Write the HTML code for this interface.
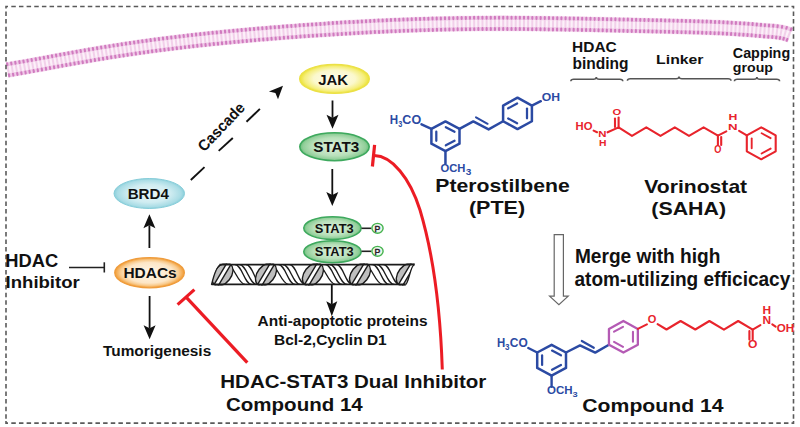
<!DOCTYPE html>
<html><head><meta charset="utf-8"><style>
html,body{margin:0;padding:0;background:#fff;}
svg{display:block;font-family:"Liberation Sans",sans-serif;}
</style></head><body>
<svg width="800" height="427" viewBox="0 0 800 427">
<defs>
<radialGradient id="gy" cx="50%" cy="50%" r="50%"><stop offset="0" stop-color="#fefdf2"/><stop offset="0.6" stop-color="#fbf8cc"/><stop offset="0.86" stop-color="#f5ee7c"/><stop offset="1" stop-color="#ece232"/></radialGradient>
<radialGradient id="gg" cx="50%" cy="50%" r="50%"><stop offset="0" stop-color="#dcf0dc"/><stop offset="0.65" stop-color="#b8e0ba"/><stop offset="0.9" stop-color="#92cf9a"/><stop offset="1" stop-color="#6abf7a"/></radialGradient>
<radialGradient id="gc" cx="50%" cy="50%" r="50%"><stop offset="0" stop-color="#eaf7f9"/><stop offset="0.6" stop-color="#cfecf1"/><stop offset="0.9" stop-color="#a9dce5"/><stop offset="1" stop-color="#8bcfdb"/></radialGradient>
<radialGradient id="go" cx="50%" cy="50%" r="50%"><stop offset="0" stop-color="#fef7ec"/><stop offset="0.68" stop-color="#fde6c6"/><stop offset="0.84" stop-color="#f9cc90"/><stop offset="0.94" stop-color="#f4ad55"/><stop offset="1" stop-color="#f29c34"/></radialGradient>
</defs>
<rect width="800" height="427" fill="#fff"/>
<polyline points="7.0,70.0 15.4,68.6 23.7,67.1 32.1,65.6 40.5,64.1 48.8,62.5 57.2,61.0 65.6,59.5 74.0,57.9 82.3,56.5 90.7,55.0 99.1,53.6 107.4,52.2 115.8,50.9 124.2,49.6 132.5,48.4 140.9,47.2 149.3,46.0 157.6,44.9 166.0,43.8 174.4,42.8 182.7,41.8 191.1,40.8 199.5,39.9 207.9,39.0 216.2,38.1 224.6,37.3 233.0,36.5 241.3,35.7 249.7,35.0 258.1,34.3 266.4,33.6 274.8,32.9 283.2,32.2 291.5,31.6 299.9,31.0 308.3,30.4 316.7,29.8 325.0,29.3 333.4,28.7 341.8,28.2 350.1,27.7 358.5,27.3 366.9,26.8 375.2,26.4 383.6,26.0 392.0,25.7 400.3,25.3 408.7,25.0 417.1,24.7 425.4,24.5 433.8,24.2 442.2,24.0 450.6,23.8 458.9,23.7 467.3,23.6 475.7,23.5 484.0,23.4 492.4,23.4 500.8,23.4 509.1,23.4 517.5,23.4 525.9,23.5 534.2,23.5 542.6,23.6 551.0,23.8 559.4,23.9 567.7,24.0 576.1,24.2 584.5,24.3 592.8,24.5 601.2,24.7 609.6,24.9 617.9,25.0 626.3,25.2 634.7,25.4 643.0,25.6 651.4,25.8 659.8,26.0 668.2,26.2 676.5,26.4 684.9,26.6 693.3,26.8 701.6,27.1 710.0,27.4 718.4,27.7 726.7,28.1 735.1,28.5 743.5,29.1 751.8,29.7 760.2,30.5 766.2,30.9 772.4,31.3 778.6,32.0 784.7,33.2 790.5,35.2" fill="none" stroke="#fcf0f9" stroke-width="16.2"/>
<polyline points="6.11,64.54 8.69,64.11 11.28,63.68 13.86,63.24 16.44,62.79 19.03,62.34 21.61,61.89 24.19,61.43 26.78,60.96 29.36,60.50 31.95,60.03 34.54,59.56 37.12,59.08 39.71,58.61 42.30,58.13 44.89,57.66 47.47,57.18 50.06,56.70 52.65,56.23 55.25,55.75 57.84,55.28 60.43,54.80 63.02,54.33 65.62,53.86 68.21,53.39 70.81,52.92 73.40,52.46 76.00,51.99 78.60,51.53 81.20,51.08 83.80,50.62 86.40,50.17 89.00,49.72 91.60,49.28 94.20,48.84 96.81,48.40 99.41,47.97 102.02,47.54 104.62,47.11 107.23,46.69 109.84,46.27 112.45,45.85 115.06,45.44 117.66,45.03 120.28,44.63 122.89,44.23 125.50,43.84 128.11,43.45 130.72,43.06 133.34,42.68 135.95,42.30 138.57,41.93 141.18,41.56 143.80,41.19 146.41,40.83 149.03,40.47 151.65,40.12 154.27,39.77 156.88,39.43 159.50,39.09 162.12,38.75 164.74,38.42 167.36,38.09 169.98,37.76 172.60,37.44 175.23,37.12 177.85,36.81 180.47,36.50 183.09,36.19 185.71,35.89 188.34,35.59 190.96,35.29 193.58,35.00 196.21,34.71 198.83,34.42 201.45,34.14 204.08,33.86 206.70,33.58 209.33,33.31 211.95,33.04 214.58,32.77 217.20,32.51 219.83,32.25 222.46,31.99 225.08,31.73 227.71,31.48 230.33,31.23 232.96,30.98 235.59,30.73 238.21,30.49 240.84,30.25 243.47,30.01 246.10,29.78 248.72,29.55 251.35,29.32 253.98,29.09 256.61,28.86 259.23,28.64 261.86,28.42 264.49,28.20 267.12,27.98 269.75,27.77 272.38,27.56 275.00,27.35 277.63,27.14 280.26,26.93 282.89,26.73 285.52,26.53 288.15,26.33 290.78,26.13 293.41,25.94 296.04,25.74 298.67,25.55 301.30,25.36 303.93,25.18 306.56,24.99 309.19,24.81 311.82,24.63 314.45,24.45 317.08,24.27 319.71,24.10 322.35,23.93 324.98,23.76 327.61,23.59 330.24,23.42 332.87,23.26 335.50,23.09 338.14,22.93 340.77,22.78 343.40,22.62 346.03,22.47 348.67,22.31 351.30,22.17 353.93,22.02 356.57,21.87 359.20,21.73 361.83,21.59 364.47,21.45 367.10,21.32 369.74,21.18 372.37,21.05 375.00,20.92 377.64,20.80 380.27,20.67 382.91,20.55 385.54,20.43 388.18,20.32 390.82,20.20 393.45,20.09 396.09,19.98 398.72,19.88 401.36,19.77 403.99,19.67 406.63,19.58 409.27,19.48 411.90,19.39 414.54,19.30 417.18,19.21 419.81,19.12 422.45,19.04 425.09,18.96 427.73,18.89 430.36,18.81 433.00,18.74 435.64,18.67 438.28,18.61 440.91,18.55 443.55,18.49 446.19,18.43 448.83,18.38 451.47,18.32 454.10,18.28 456.74,18.23 459.38,18.19 462.02,18.15 464.66,18.11 467.29,18.07 469.93,18.04 472.57,18.01 475.21,17.99 477.85,17.96 480.49,17.94 483.12,17.92 485.76,17.91 488.40,17.89 491.04,17.88 493.68,17.88 496.31,17.87 498.95,17.87 501.59,17.87 504.23,17.87 506.86,17.87 509.50,17.88 512.14,17.89 514.78,17.90 517.41,17.91 520.05,17.93 522.69,17.95 525.32,17.97 527.96,17.99 530.60,18.01 533.23,18.04 535.87,18.07 538.51,18.10 541.14,18.13 543.78,18.16 546.41,18.19 549.05,18.23 551.69,18.27 554.32,18.31 556.96,18.35 559.59,18.39 562.23,18.43 564.86,18.48 567.50,18.52 570.13,18.57 572.76,18.62 575.40,18.67 578.03,18.72 580.67,18.77 583.30,18.82 585.93,18.87 588.57,18.92 591.20,18.98 593.83,19.03 596.47,19.09 599.10,19.14 601.73,19.20 604.37,19.25 607.00,19.31 609.63,19.36 612.26,19.42 614.90,19.48 617.53,19.53 620.16,19.59 622.79,19.65 625.42,19.71 628.06,19.76 630.69,19.82 633.32,19.88 635.95,19.94 638.59,19.99 641.22,20.05 643.85,20.11 646.48,20.17 649.11,20.23 651.75,20.29 654.38,20.35 657.01,20.41 659.65,20.47 662.28,20.53 664.91,20.59 667.55,20.65 670.18,20.71 672.81,20.77 675.45,20.84 678.08,20.90 680.72,20.97 683.35,21.04 685.99,21.11 688.62,21.18 691.26,21.25 693.89,21.33 696.53,21.41 699.17,21.49 701.81,21.57 704.44,21.66 707.08,21.75 709.72,21.84 712.36,21.94 715.00,22.04 717.64,22.15 720.28,22.26 722.93,22.38 725.57,22.51 728.21,22.64 730.86,22.78 733.50,22.92 736.15,23.08 738.79,23.24 741.44,23.41 744.09,23.59 746.73,23.78 749.38,23.99 752.03,24.20 754.68,24.43 757.33,24.66 759.98,24.92 762.50,25.15 765.05,25.33 767.65,25.50 770.30,25.66 773.00,25.86 775.75,26.11 778.53,26.43 781.35,26.87 784.20,27.43 787.04,28.16 789.88,29.06 792.66,30.14" fill="none" stroke="#f0cbe8" stroke-width="4.0"/>
<polyline points="7.89,75.39 10.50,74.96 13.11,74.52 15.72,74.08 18.32,73.63 20.93,73.18 23.53,72.72 26.13,72.26 28.73,71.79 31.32,71.32 33.92,70.85 36.51,70.38 39.10,69.90 41.70,69.43 44.29,68.95 46.88,68.47 49.47,68.00 52.06,67.52 54.64,67.05 57.23,66.57 59.82,66.10 62.40,65.62 64.99,65.15 67.58,64.68 70.16,64.21 72.75,63.75 75.34,63.29 77.92,62.82 80.51,62.37 83.10,61.91 85.68,61.46 88.27,61.01 90.86,60.57 93.45,60.12 96.04,59.68 98.62,59.25 101.21,58.82 103.80,58.39 106.39,57.97 108.98,57.55 111.57,57.13 114.17,56.72 116.76,56.31 119.35,55.90 121.94,55.50 124.54,55.11 127.13,54.72 129.73,54.33 132.32,53.95 134.92,53.57 137.52,53.19 140.11,52.82 142.71,52.45 145.31,52.09 147.91,51.73 150.51,51.37 153.11,51.02 155.71,50.68 158.31,50.33 160.92,50.00 163.52,49.66 166.12,49.33 168.73,49.00 171.33,48.68 173.94,48.36 176.54,48.04 179.15,47.73 181.75,47.42 184.36,47.12 186.97,46.81 189.58,46.52 192.19,46.22 194.80,45.93 197.41,45.64 200.02,45.36 202.63,45.08 205.24,44.80 207.85,44.52 210.46,44.25 213.07,43.98 215.69,43.72 218.30,43.45 220.91,43.19 223.53,42.93 226.14,42.68 228.76,42.43 231.37,42.18 233.99,41.93 236.60,41.69 239.22,41.45 241.84,41.21 244.45,40.97 247.07,40.74 249.69,40.50 252.31,40.27 254.92,40.05 257.54,39.82 260.16,39.60 262.78,39.38 265.40,39.16 268.02,38.95 270.64,38.73 273.26,38.52 275.88,38.31 278.50,38.11 281.12,37.90 283.74,37.70 286.36,37.50 288.98,37.30 291.60,37.10 294.22,36.91 296.84,36.72 299.46,36.53 302.08,36.34 304.71,36.15 307.33,35.97 309.95,35.78 312.57,35.60 315.19,35.43 317.82,35.25 320.44,35.07 323.06,34.90 325.68,34.73 328.31,34.56 330.93,34.40 333.55,34.23 336.18,34.07 338.80,33.91 341.42,33.76 344.05,33.60 346.67,33.45 349.29,33.30 351.92,33.15 354.54,33.00 357.17,32.86 359.79,32.71 362.41,32.58 365.04,32.44 367.66,32.30 370.29,32.17 372.91,32.04 375.54,31.91 378.16,31.79 380.79,31.66 383.41,31.54 386.03,31.42 388.66,31.31 391.28,31.19 393.91,31.08 396.53,30.98 399.16,30.87 401.78,30.77 404.41,30.67 407.04,30.57 409.66,30.47 412.29,30.38 414.91,30.29 417.54,30.20 420.16,30.12 422.79,30.04 425.41,29.96 428.04,29.88 430.67,29.81 433.29,29.74 435.92,29.67 438.54,29.61 441.17,29.54 443.80,29.48 446.42,29.43 449.05,29.37 451.67,29.32 454.30,29.27 456.93,29.23 459.55,29.18 462.18,29.14 464.81,29.11 467.43,29.07 470.06,29.04 472.69,29.01 475.31,28.99 477.94,28.96 480.57,28.94 483.19,28.92 485.82,28.91 488.45,28.89 491.08,28.88 493.70,28.88 496.33,28.87 498.96,28.87 501.59,28.87 504.21,28.87 506.84,28.87 509.47,28.88 512.10,28.89 514.72,28.90 517.35,28.91 519.98,28.93 522.61,28.95 525.24,28.97 527.87,28.99 530.49,29.01 533.12,29.04 535.75,29.07 538.38,29.09 541.01,29.13 543.64,29.16 546.27,29.19 548.90,29.23 551.52,29.27 554.15,29.31 556.78,29.35 559.41,29.39 562.04,29.43 564.67,29.48 567.30,29.52 569.93,29.57 572.56,29.62 575.19,29.67 577.82,29.71 580.45,29.77 583.08,29.82 585.71,29.87 588.35,29.92 590.98,29.97 593.61,30.03 596.24,30.08 598.87,30.14 601.50,30.19 604.13,30.25 606.76,30.30 609.39,30.36 612.03,30.42 614.66,30.47 617.29,30.53 619.92,30.59 622.55,30.65 625.18,30.70 627.82,30.76 630.45,30.82 633.08,30.88 635.71,30.93 638.34,30.99 640.98,31.05 643.61,31.11 646.24,31.17 648.87,31.23 651.50,31.28 654.13,31.34 656.76,31.40 659.39,31.46 662.03,31.52 664.66,31.58 667.29,31.64 669.92,31.71 672.55,31.77 675.18,31.83 677.81,31.90 680.43,31.97 683.06,32.03 685.69,32.10 688.32,32.17 690.95,32.25 693.57,32.32 696.20,32.40 698.83,32.48 701.45,32.56 704.07,32.65 706.70,32.74 709.32,32.83 711.94,32.93 714.56,33.03 717.18,33.14 719.80,33.25 722.42,33.37 725.04,33.49 727.65,33.62 730.27,33.76 732.88,33.91 735.49,34.06 738.10,34.22 740.71,34.39 743.31,34.56 745.92,34.75 748.52,34.95 751.12,35.16 753.72,35.38 756.31,35.62 758.90,35.86 761.62,36.11 764.32,36.31 766.98,36.48 769.58,36.64 772.13,36.82 774.63,37.05 777.07,37.34 779.46,37.70 781.78,38.16 784.04,38.74 786.22,39.43 788.34,40.26" fill="none" stroke="#f0cbe8" stroke-width="4.0"/>
<path d="M7.44 65.23L8.93 74.31M11.51 64.55L13.04 73.62M15.58 63.85L17.15 72.92M19.66 63.14L21.25 72.21M23.74 62.42L25.35 71.48M27.81 61.69L29.44 70.75M31.89 60.95L33.53 70.01M35.97 60.21L37.62 69.26M40.04 59.46L41.71 68.51M44.12 58.71L45.79 67.76M48.21 57.96L49.87 67.01M52.29 57.21L53.95 66.26M56.37 56.46L58.03 65.51M60.46 55.71L62.11 64.76M64.55 54.97L66.19 64.02M68.63 54.23L70.27 63.28M72.73 53.49L74.35 62.55M76.82 52.76L78.42 61.82M80.91 52.04L82.50 61.10M85.01 51.33L86.58 60.39M89.11 50.62L90.66 59.69M93.21 49.92L94.74 58.99M97.31 49.23L98.83 58.30M101.41 48.55L102.91 57.62M105.52 47.87L107.00 56.96M109.63 47.21L111.08 56.30M113.74 46.56L115.17 55.65M117.85 45.92L119.26 55.01M121.96 45.28L123.35 54.38M126.08 44.66L127.44 53.76M130.19 44.05L131.54 53.15M134.31 43.45L135.63 52.55M138.43 42.86L139.73 51.97M142.55 42.28L143.82 51.39M146.67 41.70L147.92 50.82M150.80 41.14L152.02 50.26M154.92 40.59L156.13 49.71M159.05 40.05L160.23 49.18M163.17 39.52L164.34 48.65M167.30 39.00L168.44 48.13M171.43 38.49L172.55 47.62M175.56 37.99L176.66 47.12M179.69 37.50L180.77 46.63M183.82 37.01L184.88 46.15M187.96 36.54L189.00 45.68M192.09 36.07L193.11 45.21M196.22 35.61L197.23 44.76M200.36 35.16L201.34 44.31M204.49 34.72L205.46 43.87M208.63 34.29L209.58 43.44M212.77 33.86L213.70 43.01M216.90 33.44L217.82 42.60M221.04 33.03L221.94 42.19M225.18 32.63L226.07 41.78M229.32 32.23L230.19 41.39M233.45 31.84L234.31 41.00M237.59 31.45L238.44 40.61M241.73 31.07L242.56 40.24M245.87 30.70L246.69 39.87M250.01 30.34L250.82 39.50M254.16 29.98L254.95 39.14M258.30 29.62L259.07 38.79M262.44 29.27L263.20 38.44M266.58 28.93L267.33 38.10M270.72 28.59L271.46 37.76M274.87 28.26L275.59 37.43M279.01 27.94L279.73 37.11M283.15 27.61L283.86 36.79M287.30 27.30L287.99 36.47M291.44 26.99L292.12 36.16M295.58 26.68L296.26 35.86M299.73 26.38L300.39 35.56M303.87 26.08L304.52 35.26M308.02 25.79L308.66 34.97M312.16 25.51L312.79 34.69M316.31 25.23L316.93 34.41M320.46 24.95L321.06 34.13M324.60 24.68L325.20 33.86M328.75 24.42L329.33 33.60M332.90 24.16L333.47 33.34M337.05 23.90L337.61 33.08M341.20 23.65L341.74 32.84M345.34 23.41L345.88 32.59M349.49 23.17L350.02 32.35M353.64 22.94L354.15 32.12M357.79 22.71L358.29 31.89M361.94 22.49L362.43 31.67M366.09 22.27L366.57 31.46M370.25 22.06L370.70 31.25M374.40 21.85L374.84 31.04M378.55 21.66L378.98 30.85M382.70 21.46L383.12 30.65M386.85 21.28L387.26 30.47M391.01 21.10L391.40 30.29M395.16 20.92L395.54 30.12M399.31 20.76L399.68 29.95M403.47 20.59L403.82 29.79M407.62 20.44L407.96 29.63M411.78 20.29L412.10 29.49M415.93 20.15L416.24 29.35M420.09 20.02L420.38 29.21M424.24 19.89L424.52 29.09M428.40 19.77L428.66 28.96M432.56 19.65L432.80 28.85M436.71 19.55L436.94 28.74M440.87 19.45L441.08 28.64M445.02 19.35L445.22 28.55M449.18 19.27L449.36 28.47M453.34 19.19L453.51 28.39M457.50 19.12L457.65 28.32M461.65 19.05L461.79 28.25M465.81 18.99L465.93 28.19M469.97 18.94L470.07 28.14M474.12 18.90L474.22 28.10M478.28 18.86L478.36 28.06M482.44 18.83L482.50 28.03M486.60 18.80L486.64 28.00M490.75 18.78L490.79 27.98M494.91 18.77L494.93 27.97M499.07 18.77L499.07 27.97M503.22 18.77L503.22 27.97M507.38 18.77L507.36 27.97M511.54 18.79L511.50 27.99M515.69 18.80L515.65 28.00M519.85 18.83L519.79 28.03M524.00 18.86L523.93 28.06M528.16 18.89L528.08 28.09M532.31 18.93L532.22 28.13M536.47 18.97L536.37 28.17M540.62 19.02L540.51 28.22M544.78 19.07L544.66 28.27M548.93 19.13L548.80 28.33M553.09 19.19L552.95 28.39M557.24 19.25L557.09 28.45M561.39 19.32L561.24 28.52M565.55 19.39L565.39 28.59M569.70 19.46L569.53 28.66M573.85 19.54L573.68 28.74M578.00 19.62L577.83 28.81M582.15 19.70L581.97 28.89M586.30 19.78L586.12 28.98M590.45 19.86L590.27 29.06M594.61 19.95L594.42 29.14M598.76 20.03L598.56 29.23M602.91 20.12L602.71 29.32M607.06 20.21L606.86 29.41M611.21 20.30L611.01 29.50M615.36 20.39L615.16 29.59M619.50 20.48L619.30 29.68M623.65 20.57L623.45 29.77M627.80 20.66L627.60 29.86M631.95 20.75L631.75 29.95M636.10 20.84L635.90 30.04M640.25 20.93L640.05 30.13M644.40 21.02L644.20 30.22M648.55 21.12L648.35 30.31M652.70 21.21L652.49 30.41M656.85 21.30L656.64 30.50M661.00 21.40L660.79 30.59M665.15 21.49L664.94 30.69M669.30 21.59L669.08 30.79M673.45 21.69L673.23 30.89M677.60 21.79L677.38 30.99M681.76 21.90L681.52 31.09M685.91 22.01L685.66 31.20M690.06 22.12L689.81 31.31M694.22 22.24L693.95 31.43M698.37 22.36L698.09 31.56M702.53 22.49L702.23 31.69M706.69 22.63L706.37 31.83M710.85 22.78L710.50 31.98M715.01 22.94L714.64 32.14M719.17 23.12L718.77 32.31M723.33 23.30L722.90 32.49M727.49 23.50L727.03 32.69M731.65 23.72L731.15 32.91M735.82 23.96L735.27 33.14M739.99 24.22L739.39 33.40M744.15 24.50L743.51 33.68M748.32 24.81L747.62 33.98M752.49 25.14L751.72 34.31M756.66 25.51L755.82 34.67M760.81 25.90L759.93 35.06M764.81 26.22L764.20 35.40M768.94 26.48L768.36 35.66M773.16 26.77L772.42 35.94M777.48 27.20L776.36 36.34M781.86 27.87L780.18 36.92M786.28 28.88L783.86 37.75M790.65 30.30L787.37 38.89" stroke="#f2d0ea" stroke-width="2.0" fill="none"/>
<path d="M7.42 65.13L7.11 63.26M11.49 64.45L11.18 62.58M15.57 63.76L15.24 61.88M19.64 63.05L19.31 61.17M23.72 62.32L23.38 60.45M27.79 61.59L27.46 59.72M31.87 60.86L31.53 58.99M35.95 60.11L35.61 58.24M40.03 59.36L39.68 57.50M44.11 58.61L43.76 56.74M48.19 57.86L47.84 55.99M52.27 57.11L51.93 55.24M56.35 56.36L56.01 54.49M60.44 55.61L60.10 53.74M64.53 54.87L64.19 53.00M68.62 54.13L68.28 52.26M72.71 53.39L72.37 51.52M76.80 52.66L76.47 50.79M80.90 51.94L80.57 50.07M84.99 51.23L84.67 49.36M89.09 50.52L88.77 48.65M93.19 49.82L92.87 47.95M97.29 49.13L96.98 47.26M101.40 48.45L101.09 46.57M105.50 47.78L105.20 45.90M109.61 47.11L109.31 45.24M113.72 46.46L113.43 44.58M117.83 45.82L117.54 43.94M121.95 45.19L121.66 43.31M126.06 44.56L125.78 42.68M130.18 43.95L129.90 42.07M134.30 43.35L134.02 41.47M138.42 42.76L138.15 40.88M142.54 42.18L142.27 40.29M146.66 41.61L146.40 39.72M150.78 41.05L150.53 39.16M154.91 40.49L154.66 38.61M159.03 39.95L158.79 38.07M163.16 39.42L162.92 37.54M167.29 38.90L167.05 37.02M171.42 38.39L171.19 36.50M175.55 37.89L175.32 36.00M179.68 37.40L179.46 35.51M183.81 36.91L183.59 35.02M187.94 36.44L187.73 34.55M192.08 35.97L191.87 34.08M196.21 35.51L196.00 33.62M200.35 35.06L200.14 33.17M204.48 34.62L204.28 32.73M208.62 34.19L208.42 32.30M212.75 33.76L212.56 31.87M216.89 33.34L216.70 31.45M221.03 32.93L220.84 31.04M225.17 32.53L224.98 30.63M229.31 32.13L229.13 30.24M233.45 31.74L233.27 29.85M237.59 31.35L237.41 29.46M241.72 30.97L241.55 29.08M245.87 30.60L245.70 28.71M250.01 30.24L249.84 28.34M254.15 29.88L253.98 27.98M258.29 29.52L258.13 27.63M262.43 29.17L262.27 27.28M266.57 28.83L266.42 26.94M270.71 28.49L270.56 26.60M274.86 28.16L274.71 26.27M279.00 27.84L278.85 25.94M283.14 27.51L283.00 25.62M287.29 27.20L287.14 25.30M291.43 26.89L291.29 24.99M295.58 26.58L295.44 24.69M299.72 26.28L299.58 24.38M303.87 25.98L303.73 24.09M308.01 25.69L307.88 23.80M312.16 25.41L312.03 23.51M316.30 25.13L316.18 23.23M320.45 24.85L320.33 22.96M324.60 24.58L324.48 22.69M328.75 24.32L328.63 22.42M332.89 24.06L332.78 22.16M337.04 23.80L336.93 21.90M341.19 23.55L341.08 21.66M345.34 23.31L345.23 21.41M349.49 23.07L349.38 21.17M353.64 22.84L353.53 20.94M357.79 22.61L357.69 20.71M361.94 22.39L361.84 20.49M366.09 22.17L365.99 20.27M370.24 21.96L370.15 20.06M374.39 21.75L374.30 19.86M378.54 21.56L378.45 19.66M382.70 21.36L382.61 19.47M386.85 21.18L386.77 19.28M391.00 21.00L390.92 19.10M395.16 20.82L395.08 18.92M399.31 20.66L399.24 18.76M403.46 20.49L403.39 18.60M407.62 20.34L407.55 18.44M411.77 20.19L411.71 18.29M415.93 20.05L415.87 18.15M420.08 19.92L420.02 18.02M424.24 19.79L424.18 17.89M428.40 19.67L428.34 17.77M432.55 19.55L432.50 17.66M436.71 19.45L436.66 17.55M440.87 19.35L440.82 17.45M445.02 19.25L444.98 17.35M449.18 19.17L449.14 17.27M453.34 19.09L453.30 17.19M457.49 19.02L457.46 17.12M461.65 18.95L461.62 17.05M465.81 18.89L465.78 16.99M469.97 18.84L469.94 16.94M474.12 18.80L474.10 16.90M478.28 18.76L478.26 16.86M482.44 18.73L482.43 16.83M486.60 18.70L486.59 16.80M490.75 18.68L490.75 16.78M494.91 18.67L494.91 16.77M499.07 18.67L499.07 16.77M503.22 18.67L503.23 16.77M507.38 18.67L507.38 16.77M511.54 18.69L511.54 16.79M515.69 18.70L515.70 16.80M519.85 18.73L519.86 16.83M524.00 18.76L524.02 16.86M528.16 18.79L528.18 16.89M532.32 18.83L532.33 16.93M536.47 18.87L536.49 16.97M540.63 18.92L540.65 17.02M544.78 18.97L544.80 17.07M548.93 19.03L548.96 17.13M553.09 19.09L553.12 17.19M557.24 19.15L557.27 17.25M561.39 19.22L561.43 17.32M565.55 19.29L565.58 17.39M569.70 19.36L569.73 17.46M573.85 19.44L573.89 17.54M578.00 19.52L578.04 17.62M582.15 19.60L582.19 17.70M586.31 19.68L586.34 17.78M590.46 19.76L590.50 17.86M594.61 19.85L594.65 17.95M598.76 19.93L598.80 18.03M602.91 20.02L602.95 18.12M607.06 20.11L607.10 18.21M611.21 20.20L611.25 18.30M615.36 20.29L615.40 18.39M619.51 20.38L619.55 18.48M623.66 20.47L623.70 18.57M627.81 20.56L627.85 18.66M631.95 20.65L632.00 18.75M636.10 20.74L636.15 18.84M640.25 20.83L640.30 18.93M644.40 20.92L644.45 19.02M648.55 21.02L648.59 19.12M652.70 21.11L652.74 19.21M656.85 21.20L656.90 19.30M661.00 21.30L661.05 19.40M665.15 21.39L665.20 19.49M669.30 21.49L669.35 19.59M673.46 21.59L673.50 19.69M677.61 21.69L677.65 19.79M681.76 21.80L681.81 19.90M685.91 21.91L685.96 20.01M690.07 22.02L690.12 20.12M694.22 22.14L694.28 20.24M698.38 22.26L698.44 20.36M702.53 22.39L702.60 20.50M706.69 22.53L706.76 20.64M710.85 22.68L710.92 20.78M715.01 22.84L715.09 20.95M719.17 23.02L719.25 21.12M723.33 23.20L723.42 21.30M727.50 23.40L727.59 21.51M731.66 23.62L731.76 21.72M735.83 23.86L735.94 21.96M739.99 24.12L740.11 22.22M744.16 24.40L744.29 22.50M748.33 24.71L748.47 22.81M752.50 25.04L752.66 23.15M756.67 25.41L756.84 23.52M760.82 25.80L761.00 23.91M764.82 26.12L764.95 24.22M768.94 26.38L769.06 24.48M773.17 26.67L773.32 24.78M777.49 27.11L777.72 25.22M781.88 27.77L782.23 25.91M786.30 28.78L786.80 26.95M790.69 30.21L791.37 28.43M8.95 74.41L9.26 76.28M13.06 73.72L13.38 75.59M17.17 73.02L17.49 74.89M21.27 72.30L21.60 74.18M25.37 71.58L25.70 73.45M29.46 70.84L29.80 72.71M33.55 70.10L33.89 71.97M37.64 69.36L37.98 71.23M41.73 68.61L42.07 70.48M45.81 67.86L46.15 69.73M49.89 67.11L50.23 68.98M53.97 66.36L54.31 68.22M58.05 65.61L58.39 67.48M62.13 64.86L62.47 66.73M66.21 64.12L66.55 65.99M70.28 63.38L70.62 65.25M74.36 62.65L74.70 64.52M78.44 61.92L78.77 63.79M82.52 61.20L82.85 63.07M86.60 60.49L86.92 62.36M90.68 59.78L91.00 61.66M94.76 59.09L95.08 60.96M98.84 58.40L99.16 60.28M102.93 57.72L103.24 59.60M107.01 57.05L107.32 58.93M111.10 56.40L111.40 58.27M115.19 55.75L115.48 57.62M119.27 55.11L119.57 56.98M123.36 54.48L123.65 56.36M127.46 53.86L127.74 55.74M131.55 53.25L131.83 55.13M135.64 52.65L135.92 54.53M139.74 52.06L140.01 53.95M143.84 51.49L144.10 53.37M147.94 50.92L148.20 52.80M152.04 50.36L152.29 52.24M156.14 49.81L156.39 51.70M160.24 49.28L160.49 51.16M164.35 48.75L164.59 50.63M168.46 48.23L168.69 50.11M172.56 47.72L172.79 49.61M176.67 47.22L176.90 49.11M180.78 46.73L181.01 48.62M184.89 46.25L185.11 48.14M189.01 45.78L189.22 47.66M193.12 45.31L193.33 47.20M197.24 44.86L197.44 46.74M201.35 44.41L201.56 46.30M205.47 43.97L205.67 45.86M209.59 43.54L209.79 45.43M213.71 43.11L213.90 45.00M217.83 42.69L218.02 44.59M221.95 42.28L222.14 44.18M226.07 41.88L226.26 43.77M230.20 41.49L230.38 43.38M234.32 41.10L234.50 42.99M238.45 40.71L238.62 42.61M242.57 40.34L242.74 42.23M246.70 39.97L246.87 41.86M250.83 39.60L250.99 41.49M254.95 39.24L255.12 41.14M259.08 38.89L259.24 40.78M263.21 38.54L263.37 40.44M267.34 38.20L267.50 40.09M271.47 37.86L271.62 39.76M275.60 37.53L275.75 39.43M279.73 37.21L279.88 39.10M283.86 36.89L284.01 38.78M288.00 36.57L288.14 38.47M292.13 36.26L292.27 38.16M296.26 35.96L296.40 37.85M300.40 35.66L300.53 37.55M304.53 35.36L304.66 37.26M308.66 35.07L308.80 36.97M312.80 34.79L312.93 36.68M316.93 34.51L317.06 36.40M321.07 34.23L321.19 36.13M325.20 33.96L325.33 35.86M329.34 33.70L329.46 35.59M333.48 33.44L333.59 35.33M337.61 33.18L337.73 35.08M341.75 32.94L341.86 34.83M345.88 32.69L346.00 34.59M350.02 32.45L350.13 34.35M354.16 32.22L354.26 34.12M358.30 31.99L358.40 33.89M362.43 31.77L362.53 33.67M366.57 31.56L366.67 33.45M370.71 31.35L370.80 33.25M374.85 31.14L374.94 33.04M378.99 30.95L379.08 32.84M383.13 30.75L383.21 32.65M387.26 30.57L387.35 32.47M391.40 30.39L391.48 32.29M395.54 30.22L395.62 32.11M399.68 30.05L399.76 31.95M403.82 29.89L403.89 31.79M407.96 29.73L408.03 31.63M412.10 29.59L412.17 31.49M416.24 29.45L416.30 31.35M420.38 29.31L420.44 31.21M424.52 29.19L424.58 31.08M428.66 29.06L428.72 30.96M432.80 28.95L432.85 30.85M436.94 28.84L436.99 30.74M441.08 28.74L441.13 30.64M445.23 28.65L445.27 30.55M449.37 28.57L449.40 30.47M453.51 28.49L453.54 30.39M457.65 28.42L457.68 30.32M461.79 28.35L461.82 30.25M465.93 28.29L465.96 30.19M470.07 28.24L470.10 30.14M474.22 28.20L474.24 30.10M478.36 28.16L478.37 30.06M482.50 28.13L482.51 30.03M486.64 28.10L486.65 30.00M490.79 28.08L490.79 29.98M494.93 28.07L494.93 29.97M499.07 28.07L499.07 29.97M503.22 28.07L503.21 29.97M507.36 28.07L507.35 29.97M511.50 28.09L511.50 29.99M515.65 28.10L515.64 30.00M519.79 28.13L519.78 30.03M523.93 28.16L523.92 30.06M528.08 28.19L528.06 30.09M532.22 28.23L532.20 30.13M536.37 28.27L536.35 30.17M540.51 28.32L540.49 30.22M544.66 28.37L544.63 30.27M548.80 28.43L548.78 30.33M552.95 28.49L552.92 30.39M557.09 28.55L557.06 30.45M561.24 28.62L561.21 30.52M565.38 28.69L565.35 30.59M569.53 28.76L569.50 30.66M573.68 28.84L573.64 30.74M577.82 28.91L577.79 30.81M581.97 28.99L581.93 30.89M586.12 29.08L586.08 30.98M590.27 29.16L590.23 31.06M594.41 29.24L594.37 31.14M598.56 29.33L598.52 31.23M602.71 29.42L602.67 31.32M606.86 29.51L606.82 31.41M611.01 29.60L610.96 31.50M615.15 29.69L615.11 31.58M619.30 29.78L619.26 31.67M623.45 29.87L623.41 31.77M627.60 29.96L627.56 31.86M631.75 30.05L631.71 31.95M635.90 30.14L635.86 32.04M640.05 30.23L640.00 32.13M644.19 30.32L644.15 32.22M648.34 30.41L648.30 32.31M652.49 30.51L652.45 32.41M656.64 30.60L656.60 32.50M660.79 30.69L660.74 32.59M664.93 30.79L664.89 32.69M669.08 30.89L669.04 32.79M673.23 30.99L673.18 32.89M677.37 31.09L677.33 32.99M681.52 31.19L681.47 33.09M685.66 31.30L685.61 33.20M689.80 31.41L689.75 33.31M693.95 31.53L693.89 33.43M698.09 31.66L698.03 33.56M702.23 31.79L702.16 33.69M706.36 31.93L706.30 33.83M710.50 32.08L710.43 33.98M714.63 32.24L714.56 34.13M718.77 32.41L718.68 34.31M722.90 32.59L722.81 34.49M727.02 32.79L726.93 34.69M731.15 33.01L731.04 34.90M735.27 33.24L735.16 35.14M739.39 33.50L739.26 35.39M743.50 33.78L743.37 35.67M747.61 34.08L747.46 35.97M751.71 34.41L751.55 36.30M755.81 34.77L755.64 36.66M759.92 35.16L759.74 37.05M764.19 35.50L764.07 37.40M768.36 35.76L768.24 37.66M772.41 36.04L772.26 37.94M776.35 36.44L776.12 38.32M780.16 37.02L779.81 38.88M783.83 37.85L783.33 39.68M787.33 38.99L786.66 40.76" stroke="#d07abf" stroke-width="2.1" stroke-linecap="round" fill="none"/>
<path d="M11.30,6.5L15.80,6.5M18.95,6.5L23.45,6.5M26.60,6.5L31.10,6.5M34.25,6.5L38.75,6.5M41.90,6.5L46.40,6.5M49.55,6.5L54.05,6.5M57.20,6.5L61.70,6.5M64.85,6.5L69.35,6.5M72.50,6.5L77.00,6.5M80.15,6.5L84.65,6.5M87.80,6.5L92.30,6.5M95.45,6.5L99.95,6.5M103.10,6.5L107.60,6.5M110.75,6.5L115.25,6.5M118.40,6.5L122.90,6.5M126.05,6.5L130.55,6.5M133.70,6.5L138.20,6.5M141.35,6.5L145.85,6.5M149.00,6.5L153.50,6.5M156.65,6.5L161.15,6.5M164.30,6.5L168.80,6.5M171.95,6.5L176.45,6.5M179.60,6.5L184.10,6.5M187.25,6.5L191.75,6.5M194.90,6.5L199.40,6.5M202.55,6.5L207.05,6.5M210.20,6.5L214.70,6.5M217.85,6.5L222.35,6.5M225.50,6.5L230.00,6.5M233.15,6.5L237.65,6.5M240.80,6.5L245.30,6.5M248.45,6.5L252.95,6.5M256.10,6.5L260.60,6.5M263.75,6.5L268.25,6.5M271.40,6.5L275.90,6.5M279.05,6.5L283.55,6.5M286.70,6.5L291.20,6.5M294.35,6.5L298.85,6.5M302.00,6.5L306.50,6.5M309.65,6.5L314.15,6.5M317.30,6.5L321.80,6.5M324.95,6.5L329.45,6.5M332.60,6.5L337.10,6.5M340.25,6.5L344.75,6.5M347.90,6.5L352.40,6.5M355.55,6.5L360.05,6.5M363.20,6.5L367.70,6.5M370.85,6.5L375.35,6.5M378.50,6.5L383.00,6.5M386.15,6.5L390.65,6.5M393.80,6.5L398.30,6.5M401.45,6.5L405.95,6.5M409.10,6.5L413.60,6.5M416.75,6.5L421.25,6.5M424.40,6.5L428.90,6.5M432.05,6.5L436.55,6.5M439.70,6.5L444.20,6.5M447.35,6.5L451.85,6.5M455.00,6.5L459.50,6.5M462.65,6.5L467.15,6.5M470.30,6.5L474.80,6.5M477.95,6.5L482.45,6.5M485.60,6.5L490.10,6.5M493.25,6.5L497.75,6.5M500.90,6.5L505.40,6.5M508.55,6.5L513.05,6.5M516.20,6.5L520.70,6.5M523.85,6.5L528.35,6.5M531.50,6.5L536.00,6.5M539.15,6.5L543.65,6.5M546.80,6.5L551.30,6.5M554.45,6.5L558.95,6.5M562.10,6.5L566.60,6.5M569.75,6.5L574.25,6.5M577.40,6.5L581.90,6.5M585.05,6.5L589.55,6.5M592.70,6.5L597.20,6.5M600.35,6.5L604.85,6.5M608.00,6.5L612.50,6.5M615.65,6.5L620.15,6.5M623.30,6.5L627.80,6.5M630.95,6.5L635.45,6.5M638.60,6.5L643.10,6.5M646.25,6.5L650.75,6.5M653.90,6.5L658.40,6.5M661.55,6.5L666.05,6.5M669.20,6.5L673.70,6.5M676.85,6.5L681.35,6.5M684.50,6.5L689.00,6.5M692.15,6.5L696.65,6.5M699.80,6.5L704.30,6.5M707.45,6.5L711.95,6.5M715.10,6.5L719.60,6.5M722.75,6.5L727.25,6.5M730.40,6.5L734.90,6.5M738.05,6.5L742.55,6.5M745.70,6.5L750.20,6.5M753.35,6.5L757.85,6.5M761.00,6.5L765.50,6.5M768.65,6.5L773.15,6.5M776.30,6.5L780.80,6.5M783.95,6.5L788.45,6.5M791.60,6.5L793.50,6.5M11.30,423.1L15.80,423.1M18.95,423.1L23.45,423.1M26.60,423.1L31.10,423.1M34.25,423.1L38.75,423.1M41.90,423.1L46.40,423.1M49.55,423.1L54.05,423.1M57.20,423.1L61.70,423.1M64.85,423.1L69.35,423.1M72.50,423.1L77.00,423.1M80.15,423.1L84.65,423.1M87.80,423.1L92.30,423.1M95.45,423.1L99.95,423.1M103.10,423.1L107.60,423.1M110.75,423.1L115.25,423.1M118.40,423.1L122.90,423.1M126.05,423.1L130.55,423.1M133.70,423.1L138.20,423.1M141.35,423.1L145.85,423.1M149.00,423.1L153.50,423.1M156.65,423.1L161.15,423.1M164.30,423.1L168.80,423.1M171.95,423.1L176.45,423.1M179.60,423.1L184.10,423.1M187.25,423.1L191.75,423.1M194.90,423.1L199.40,423.1M202.55,423.1L207.05,423.1M210.20,423.1L214.70,423.1M217.85,423.1L222.35,423.1M225.50,423.1L230.00,423.1M233.15,423.1L237.65,423.1M240.80,423.1L245.30,423.1M248.45,423.1L252.95,423.1M256.10,423.1L260.60,423.1M263.75,423.1L268.25,423.1M271.40,423.1L275.90,423.1M279.05,423.1L283.55,423.1M286.70,423.1L291.20,423.1M294.35,423.1L298.85,423.1M302.00,423.1L306.50,423.1M309.65,423.1L314.15,423.1M317.30,423.1L321.80,423.1M324.95,423.1L329.45,423.1M332.60,423.1L337.10,423.1M340.25,423.1L344.75,423.1M347.90,423.1L352.40,423.1M355.55,423.1L360.05,423.1M363.20,423.1L367.70,423.1M370.85,423.1L375.35,423.1M378.50,423.1L383.00,423.1M386.15,423.1L390.65,423.1M393.80,423.1L398.30,423.1M401.45,423.1L405.95,423.1M409.10,423.1L413.60,423.1M416.75,423.1L421.25,423.1M424.40,423.1L428.90,423.1M432.05,423.1L436.55,423.1M439.70,423.1L444.20,423.1M447.35,423.1L451.85,423.1M455.00,423.1L459.50,423.1M462.65,423.1L467.15,423.1M470.30,423.1L474.80,423.1M477.95,423.1L482.45,423.1M485.60,423.1L490.10,423.1M493.25,423.1L497.75,423.1M500.90,423.1L505.40,423.1M508.55,423.1L513.05,423.1M516.20,423.1L520.70,423.1M523.85,423.1L528.35,423.1M531.50,423.1L536.00,423.1M539.15,423.1L543.65,423.1M546.80,423.1L551.30,423.1M554.45,423.1L558.95,423.1M562.10,423.1L566.60,423.1M569.75,423.1L574.25,423.1M577.40,423.1L581.90,423.1M585.05,423.1L589.55,423.1M592.70,423.1L597.20,423.1M600.35,423.1L604.85,423.1M608.00,423.1L612.50,423.1M615.65,423.1L620.15,423.1M623.30,423.1L627.80,423.1M630.95,423.1L635.45,423.1M638.60,423.1L643.10,423.1M646.25,423.1L650.75,423.1M653.90,423.1L658.40,423.1M661.55,423.1L666.05,423.1M669.20,423.1L673.70,423.1M676.85,423.1L681.35,423.1M684.50,423.1L689.00,423.1M692.15,423.1L696.65,423.1M699.80,423.1L704.30,423.1M707.45,423.1L711.95,423.1M715.10,423.1L719.60,423.1M722.75,423.1L727.25,423.1M730.40,423.1L734.90,423.1M738.05,423.1L742.55,423.1M745.70,423.1L750.20,423.1M753.35,423.1L757.85,423.1M761.00,423.1L765.50,423.1M768.65,423.1L773.15,423.1M776.30,423.1L780.80,423.1M783.95,423.1L788.45,423.1M791.60,423.1L793.50,423.1M6.0,11.50L6.0,16.00M6.0,19.10L6.0,23.60M6.0,26.70L6.0,31.20M6.0,34.30L6.0,38.80M6.0,41.90L6.0,46.40M6.0,49.50L6.0,54.00M6.0,57.10L6.0,61.60M6.0,64.70L6.0,69.20M6.0,72.30L6.0,76.80M6.0,79.90L6.0,84.40M6.0,87.50L6.0,92.00M6.0,95.10L6.0,99.60M6.0,102.70L6.0,107.20M6.0,110.30L6.0,114.80M6.0,117.90L6.0,122.40M6.0,125.50L6.0,130.00M6.0,133.10L6.0,137.60M6.0,140.70L6.0,145.20M6.0,148.30L6.0,152.80M6.0,155.90L6.0,160.40M6.0,163.50L6.0,168.00M6.0,171.10L6.0,175.60M6.0,178.70L6.0,183.20M6.0,186.30L6.0,190.80M6.0,193.90L6.0,198.40M6.0,201.50L6.0,206.00M6.0,209.10L6.0,213.60M6.0,216.70L6.0,221.20M6.0,224.30L6.0,228.80M6.0,231.90L6.0,236.40M6.0,239.50L6.0,244.00M6.0,247.10L6.0,251.60M6.0,254.70L6.0,259.20M6.0,262.30L6.0,266.80M6.0,269.90L6.0,274.40M6.0,277.50L6.0,282.00M6.0,285.10L6.0,289.60M6.0,292.70L6.0,297.20M6.0,300.30L6.0,304.80M6.0,307.90L6.0,312.40M6.0,315.50L6.0,320.00M6.0,323.10L6.0,327.60M6.0,330.70L6.0,335.20M6.0,338.30L6.0,342.80M6.0,345.90L6.0,350.40M6.0,353.50L6.0,358.00M6.0,361.10L6.0,365.60M6.0,368.70L6.0,373.20M6.0,376.30L6.0,380.80M6.0,383.90L6.0,388.40M6.0,391.50L6.0,396.00M6.0,399.10L6.0,403.60M6.0,406.70L6.0,411.20M6.0,414.30L6.0,418.80M6.0,421.90L6.0,423.10M793.5,11.40L793.5,15.90M793.5,19.00L793.5,23.50M793.5,26.60L793.5,31.10M793.5,34.20L793.5,38.70M793.5,41.80L793.5,46.30M793.5,49.40L793.5,53.90M793.5,57.00L793.5,61.50M793.5,64.60L793.5,69.10M793.5,72.20L793.5,76.70M793.5,79.80L793.5,84.30M793.5,87.40L793.5,91.90M793.5,95.00L793.5,99.50M793.5,102.60L793.5,107.10M793.5,110.20L793.5,114.70M793.5,117.80L793.5,122.30M793.5,125.40L793.5,129.90M793.5,133.00L793.5,137.50M793.5,140.60L793.5,145.10M793.5,148.20L793.5,152.70M793.5,155.80L793.5,160.30M793.5,163.40L793.5,167.90M793.5,171.00L793.5,175.50M793.5,178.60L793.5,183.10M793.5,186.20L793.5,190.70M793.5,193.80L793.5,198.30M793.5,201.40L793.5,205.90M793.5,209.00L793.5,213.50M793.5,216.60L793.5,221.10M793.5,224.20L793.5,228.70M793.5,231.80L793.5,236.30M793.5,239.40L793.5,243.90M793.5,247.00L793.5,251.50M793.5,254.60L793.5,259.10M793.5,262.20L793.5,266.70M793.5,269.80L793.5,274.30M793.5,277.40L793.5,281.90M793.5,285.00L793.5,289.50M793.5,292.60L793.5,297.10M793.5,300.20L793.5,304.70M793.5,307.80L793.5,312.30M793.5,315.40L793.5,319.90M793.5,323.00L793.5,327.50M793.5,330.60L793.5,335.10M793.5,338.20L793.5,342.70M793.5,345.80L793.5,350.30M793.5,353.40L793.5,357.90M793.5,361.00L793.5,365.50M793.5,368.60L793.5,373.10M793.5,376.20L793.5,380.70M793.5,383.80L793.5,388.30M793.5,391.40L793.5,395.90M793.5,399.00L793.5,403.50M793.5,406.60L793.5,411.10M793.5,414.20L793.5,418.70M793.5,421.80L793.5,423.10M6.0,8.5L6.0,6.5L8.0,6.5M791.5,6.5L793.5,6.5L793.5,8.5M6.0,421.1L6.0,423.1L8.0,423.1M791.5,423.1L793.5,423.1L793.5,421.1" fill="none" stroke="#5a5a5a" stroke-width="1.6"/>
<ellipse cx="334.5" cy="78.9" rx="34.9" ry="14.5" fill="url(#gy)" stroke="#ebe046" stroke-width="1.2"/>
<ellipse cx="334.5" cy="146.75" rx="34.7" ry="13.95" fill="url(#gg)" stroke="#3ea95e" stroke-width="1.6"/>
<ellipse cx="332.45" cy="228.05" rx="28.7" ry="11.4" fill="url(#gg)" stroke="#3ea95e" stroke-width="1.5"/>
<ellipse cx="332.45" cy="251.7" rx="28.7" ry="10.95" fill="url(#gg)" stroke="#3ea95e" stroke-width="1.5"/>
<ellipse cx="149.25" cy="193.5" rx="35.25" ry="15" fill="url(#gc)" stroke="#86cdd9" stroke-width="1"/>
<ellipse cx="149.55" cy="272.75" rx="34.8" ry="15.1" fill="url(#go)" stroke="#ef9c3c" stroke-width="1.3"/>
<line x1="361.5" y1="228.3" x2="371.5" y2="228.3" stroke="#222" stroke-width="1.6"/>
<ellipse cx="377.5" cy="228.3" rx="5.6" ry="4.9" fill="#eaf6ea" stroke="#45b34f" stroke-width="1.4"/>
<text x="374.49" y="231.90" font-size="9.74" font-weight="normal" textLength="5.76" lengthAdjust="spacingAndGlyphs" fill="#2a1a2a" stroke="#2a1a2a" stroke-width="0.5">P</text>
<line x1="361.5" y1="251.3" x2="371.5" y2="251.3" stroke="#222" stroke-width="1.6"/>
<ellipse cx="377.5" cy="251.3" rx="5.6" ry="4.9" fill="#eaf6ea" stroke="#45b34f" stroke-width="1.4"/>
<text x="374.49" y="254.90" font-size="9.74" font-weight="normal" textLength="5.76" lengthAdjust="spacingAndGlyphs" fill="#2a1a2a" stroke="#2a1a2a" stroke-width="0.5">P</text>
<line x1="332.5" y1="100.5" x2="332.50" y2="117.80" stroke="#111" stroke-width="1.8"/><path d="M332.50,128.80 L326.50,114.80 L332.50,117.80 L338.50,114.80z" fill="#111"/>
<line x1="332.3" y1="169" x2="332.30" y2="195.00" stroke="#111" stroke-width="1.8"/><path d="M332.30,206.00 L326.30,192.00 L332.30,195.00 L338.30,192.00z" fill="#111"/>
<line x1="331.8" y1="285" x2="331.80" y2="304.20" stroke="#111" stroke-width="1.8"/><path d="M331.80,316.20 L326.30,301.20 L331.80,304.20 L337.30,301.20z" fill="#111"/>
<line x1="149.4" y1="248" x2="149.40" y2="225.30" stroke="#111" stroke-width="1.8"/><path d="M149.40,214.30 L155.40,228.30 L149.40,225.30 L143.40,228.30z" fill="#111"/>
<line x1="149.6" y1="296" x2="149.60" y2="328.20" stroke="#111" stroke-width="1.8"/><path d="M149.60,339.20 L143.60,325.20 L149.60,328.20 L155.60,325.20z" fill="#111"/>
<line x1="69" y1="267.4" x2="104.3" y2="267.4" stroke="#222" stroke-width="1.5"/>
<line x1="104.3" y1="262.3" x2="104.3" y2="272.5" stroke="#222" stroke-width="1.6"/>
<g stroke="#111" stroke-width="1.9"><line x1="190.8" y1="180" x2="204.5" y2="167.1"/><line x1="218.7" y1="150.9" x2="232.8" y2="138"/><line x1="246.5" y1="121.8" x2="259.9" y2="108.9"/></g>
<path d="M283,85.7 L278,99.3 L275.4,92.9 L268.9,91.6z" fill="#111"/>
<path d="M374.2,155.6 C392,156 410,178 420,210 C432,250 440,300 442.3,369.5" fill="none" stroke="#ec1c24" stroke-width="3"/>
<line x1="374.6" y1="144.8" x2="372.4" y2="166.5" stroke="#ec1c24" stroke-width="3.2"/>
<line x1="186.1" y1="297.2" x2="247.3" y2="362.7" stroke="#ec1c24" stroke-width="3.2"/>
<line x1="177.6" y1="304.6" x2="194.4" y2="289.6" stroke="#ec1c24" stroke-width="3.2"/>
<polygon points="445.45,121.40 459.50,128.82 459.50,143.68 445.45,151.10 431.40,143.68 431.40,128.82" fill="none" stroke="#2b4aa3" stroke-width="2.5" stroke-linejoin="round"/><line x1="436.30" y1="140.85" x2="436.30" y2="131.65" stroke="#2b4aa3" stroke-width="2.25" stroke-linecap="round"/><line x1="445.83" y1="127.14" x2="454.54" y2="131.75" stroke="#2b4aa3" stroke-width="2.25" stroke-linecap="round"/><line x1="454.54" y1="140.75" x2="445.83" y2="145.36" stroke="#2b4aa3" stroke-width="2.25" stroke-linecap="round"/>
<polygon points="517.50,97.70 531.90,105.55 531.90,121.25 517.50,129.10 503.10,121.25 503.10,105.55" fill="none" stroke="#2b4aa3" stroke-width="2.5" stroke-linejoin="round"/><line x1="508.18" y1="108.36" x2="517.11" y2="103.49" stroke="#2b4aa3" stroke-width="2.25" stroke-linecap="round"/><line x1="527.00" y1="108.53" x2="527.00" y2="118.27" stroke="#2b4aa3" stroke-width="2.25" stroke-linecap="round"/><line x1="517.11" y1="123.31" x2="508.18" y2="118.44" stroke="#2b4aa3" stroke-width="2.25" stroke-linecap="round"/>
<polyline points="459.50,128.82 473.30,121.40 488.60,129.40 503.10,121.25" fill="none" stroke="#2b4aa3" stroke-width="2.5" stroke-linejoin="round" stroke-linecap="round"/>
<line x1="476.00" y1="117.30" x2="487.60" y2="123.80" stroke="#2b4aa3" stroke-width="2.0" stroke-linecap="round"/>
<line x1="431.40" y1="128.82" x2="421.50" y2="124.30" stroke="#2b4aa3" stroke-width="2.5" stroke-linecap="round"/>
<line x1="445.45" y1="151.10" x2="445.45" y2="163.60" stroke="#2b4aa3" stroke-width="2.5" stroke-linecap="round"/>
<line x1="531.90" y1="105.55" x2="540.80" y2="101.20" stroke="#2b4aa3" stroke-width="2.5" stroke-linecap="round"/>
<text x="389.73" y="123.80" font-size="11.92" font-weight="bold" textLength="8.35" lengthAdjust="spacingAndGlyphs" fill="#2b4aa3" >H</text>
<text x="398.23" y="126.60" font-size="9.01" font-weight="bold" textLength="4.03" lengthAdjust="spacingAndGlyphs" fill="#2b4aa3" >3</text>
<text x="402.39" y="123.80" font-size="11.92" font-weight="bold" textLength="18.74" lengthAdjust="spacingAndGlyphs" fill="#2b4aa3" >CO</text>
<text x="440.54" y="171.60" font-size="11.77" font-weight="bold" textLength="24.92" lengthAdjust="spacingAndGlyphs" fill="#2b4aa3" >OCH</text>
<text x="465.87" y="174.60" font-size="9.45" font-weight="bold" textLength="5.59" lengthAdjust="spacingAndGlyphs" fill="#2b4aa3" >3</text>
<text x="541.80" y="100.50" font-size="11.48" font-weight="bold" textLength="18.22" lengthAdjust="spacingAndGlyphs" fill="#2b4aa3" >OH</text>
<text x="575.55" y="129.60" font-size="10.76" font-weight="bold" textLength="16.93" lengthAdjust="spacingAndGlyphs" fill="#e8242c" >HO</text>
<line x1="593.60" y1="130.60" x2="597.00" y2="132.20" stroke="#e8242c" stroke-width="2.1" stroke-linecap="round"/>
<text x="598.24" y="136.90" font-size="9.88" font-weight="bold" textLength="8.23" lengthAdjust="spacingAndGlyphs" fill="#e8242c" >N</text>
<text x="598.91" y="146.40" font-size="9.74" font-weight="bold" textLength="7.49" lengthAdjust="spacingAndGlyphs" fill="#e8242c" >H</text>
<polyline points="607.60,132.30 618.60,127.40 632.00,135.90 646.30,127.40 660.50,135.90 674.80,127.40 689.00,135.90 703.60,127.40 717.90,135.60 726.30,131.40" fill="none" stroke="#e8242c" stroke-width="2.1" stroke-linejoin="round" stroke-linecap="round"/>
<line x1="618.60" y1="127.40" x2="618.60" y2="117.60" stroke="#e8242c" stroke-width="2.1" stroke-linecap="round"/>
<line x1="615.00" y1="127.00" x2="615.00" y2="118.60" stroke="#e8242c" stroke-width="2.1" stroke-linecap="round"/>
<text x="612.64" y="114.90" font-size="9.74" font-weight="bold" textLength="8.73" lengthAdjust="spacingAndGlyphs" fill="#e8242c" >O</text>
<line x1="717.90" y1="135.60" x2="717.90" y2="145.00" stroke="#e8242c" stroke-width="2.1" stroke-linecap="round"/>
<line x1="721.20" y1="137.00" x2="721.20" y2="145.00" stroke="#e8242c" stroke-width="2.1" stroke-linecap="round"/>
<text x="714.32" y="152.70" font-size="10.03" font-weight="bold" textLength="7.16" lengthAdjust="spacingAndGlyphs" fill="#e8242c" >O</text>
<text x="727.91" y="130.10" font-size="9.30" font-weight="bold" textLength="9.58" lengthAdjust="spacingAndGlyphs" fill="#e8242c" >N</text>
<text x="728.58" y="119.80" font-size="9.30" font-weight="bold" textLength="8.84" lengthAdjust="spacingAndGlyphs" fill="#e8242c" >H</text>
<polygon points="761.25,127.40 775.70,135.38 775.70,151.32 761.25,159.30 746.80,151.32 746.80,135.38" fill="none" stroke="#e8242c" stroke-width="2.1" stroke-linejoin="round"/><line x1="751.70" y1="148.29" x2="751.70" y2="138.41" stroke="#e8242c" stroke-width="1.8900000000000001" stroke-linecap="round"/><line x1="761.63" y1="133.21" x2="770.59" y2="138.15" stroke="#e8242c" stroke-width="1.8900000000000001" stroke-linecap="round"/><line x1="770.59" y1="148.55" x2="761.63" y2="153.49" stroke="#e8242c" stroke-width="1.8900000000000001" stroke-linecap="round"/>
<line x1="739.10" y1="130.80" x2="746.80" y2="135.38" stroke="#e8242c" stroke-width="2.1" stroke-linecap="round"/>
<polygon points="551.60,344.80 566.00,352.50 566.00,367.90 551.60,375.60 537.20,367.90 537.20,352.50" fill="none" stroke="#2b4aa3" stroke-width="2.5" stroke-linejoin="round"/><line x1="542.10" y1="364.97" x2="542.10" y2="355.43" stroke="#2b4aa3" stroke-width="2.25" stroke-linecap="round"/><line x1="552.03" y1="350.58" x2="560.95" y2="355.36" stroke="#2b4aa3" stroke-width="2.25" stroke-linecap="round"/><line x1="560.95" y1="365.04" x2="552.03" y2="369.82" stroke="#2b4aa3" stroke-width="2.25" stroke-linecap="round"/>
<line x1="537.20" y1="352.50" x2="528.30" y2="348.00" stroke="#2b4aa3" stroke-width="2.4" stroke-linecap="round"/>
<line x1="551.60" y1="375.60" x2="551.60" y2="386.80" stroke="#2b4aa3" stroke-width="2.4" stroke-linecap="round"/>
<polyline points="566.00,352.50 580.00,345.40 595.20,352.60 608.95,344.70" fill="none" stroke="#2b4aa3" stroke-width="2.4" stroke-linejoin="round" stroke-linecap="round"/>
<line x1="581.80" y1="341.00" x2="593.80" y2="347.80" stroke="#2b4aa3" stroke-width="2.2" stroke-linecap="round"/>
<text x="496.94" y="347.20" font-size="11.92" font-weight="bold" textLength="8.23" lengthAdjust="spacingAndGlyphs" fill="#2b4aa3" >H</text>
<text x="505.02" y="350.40" font-size="9.45" font-weight="bold" textLength="4.48" lengthAdjust="spacingAndGlyphs" fill="#2b4aa3" >3</text>
<text x="509.81" y="347.20" font-size="11.92" font-weight="bold" textLength="17.89" lengthAdjust="spacingAndGlyphs" fill="#2b4aa3" >CO</text>
<text x="547.13" y="394.30" font-size="10.90" font-weight="bold" textLength="25.55" lengthAdjust="spacingAndGlyphs" fill="#2b4aa3" >OCH</text>
<text x="572.59" y="397.30" font-size="7.85" font-weight="bold" textLength="5.15" lengthAdjust="spacingAndGlyphs" fill="#2b4aa3" >3</text>
<polygon points="623.40,321.00 637.85,328.90 637.85,344.70 623.40,352.60 608.95,344.70 608.95,328.90" fill="none" stroke="#b45ab4" stroke-width="2.3" stroke-linejoin="round"/><line x1="614.05" y1="331.70" x2="623.01" y2="326.80" stroke="#b45ab4" stroke-width="2.07" stroke-linecap="round"/><line x1="632.95" y1="331.90" x2="632.95" y2="341.70" stroke="#b45ab4" stroke-width="2.07" stroke-linecap="round"/><line x1="623.01" y1="346.80" x2="614.05" y2="341.90" stroke="#b45ab4" stroke-width="2.07" stroke-linecap="round"/>
<line x1="637.85" y1="328.90" x2="646.90" y2="324.40" stroke="#e8242c" stroke-width="2.1" stroke-linecap="round"/>
<text x="647.85" y="323.20" font-size="10.17" font-weight="bold" textLength="8.62" lengthAdjust="spacingAndGlyphs" fill="#e8242c" >O</text>
<polyline points="657.60,324.20 666.50,329.50 680.60,321.00 695.30,329.50 709.40,321.00 723.90,329.70 738.20,321.00 752.70,329.60 760.40,325.10" fill="none" stroke="#e8242c" stroke-width="2.1" stroke-linejoin="round" stroke-linecap="round"/>
<line x1="752.70" y1="329.60" x2="752.70" y2="339.60" stroke="#e8242c" stroke-width="2.1" stroke-linecap="round"/>
<line x1="749.40" y1="331.00" x2="749.40" y2="339.60" stroke="#e8242c" stroke-width="2.1" stroke-linecap="round"/>
<text x="748.00" y="347.60" font-size="10.17" font-weight="bold" textLength="9.40" lengthAdjust="spacingAndGlyphs" fill="#e8242c" >O</text>
<text x="762.40" y="323.70" font-size="10.17" font-weight="bold" textLength="8.60" lengthAdjust="spacingAndGlyphs" fill="#e8242c" >N</text>
<text x="762.40" y="313.90" font-size="10.17" font-weight="bold" textLength="8.60" lengthAdjust="spacingAndGlyphs" fill="#e8242c" >H</text>
<line x1="772.30" y1="324.40" x2="775.60" y2="326.60" stroke="#e8242c" stroke-width="2.1" stroke-linecap="round"/>
<text x="776.72" y="332.10" font-size="10.17" font-weight="bold" textLength="17.46" lengthAdjust="spacingAndGlyphs" fill="#e8242c" >OH</text>
<defs><clipPath id="dnaclip"><path d="M211.5,285.4 C213.5,276.4 216.5,264.6 221.5,263.6 L415.5,263.6 C410.5,264.6 408.5,284.4 405.5,285.4 Z"/></clipPath></defs><g clip-path="url(#dnaclip)"><rect x="211.5" y="264.6" width="203.0" height="19.799999999999955" fill="#fff"/><path d="M181.0,264.6 C188.0,264.6 192.0,284.4 199.0,284.4 L216.0,284.4 C209.0,284.4 207.0,264.6 200.0,264.6 Z" fill="#fff"/><path d="M181.0,264.6 C188.0,264.6 192.0,284.4 199.0,284.4M189.0,264.6 C196.0,264.6 198.5,284.4 205.5,284.4M193.5,264.6 C200.5,264.6 203.5,284.4 210.5,284.4M200.0,264.6 C207.0,264.6 209.0,284.4 216.0,284.4" fill="none" stroke="#1b1b1b" stroke-width="1.35"/><path d="M227.0,264.6 C234.0,264.6 238.0,284.4 245.0,284.4 L262.0,284.4 C255.0,284.4 253.0,264.6 246.0,264.6 Z" fill="#fff"/><path d="M227.0,264.6 C234.0,264.6 238.0,284.4 245.0,284.4M235.0,264.6 C242.0,264.6 244.5,284.4 251.5,284.4M239.5,264.6 C246.5,264.6 249.5,284.4 256.5,284.4M246.0,264.6 C253.0,264.6 255.0,284.4 262.0,284.4" fill="none" stroke="#1b1b1b" stroke-width="1.35"/><path d="M270.5,264.6 C277.5,264.6 281.5,284.4 288.5,284.4 L305.5,284.4 C298.5,284.4 296.5,264.6 289.5,264.6 Z" fill="#fff"/><path d="M270.5,264.6 C277.5,264.6 281.5,284.4 288.5,284.4M278.5,264.6 C285.5,264.6 288.0,284.4 295.0,284.4M283.0,264.6 C290.0,264.6 293.0,284.4 300.0,284.4M289.5,264.6 C296.5,264.6 298.5,284.4 305.5,284.4" fill="none" stroke="#1b1b1b" stroke-width="1.35"/><path d="M317.4,264.6 C324.4,264.6 328.4,284.4 335.4,284.4 L352.4,284.4 C345.4,284.4 343.4,264.6 336.4,264.6 Z" fill="#fff"/><path d="M317.4,264.6 C324.4,264.6 328.4,284.4 335.4,284.4M325.4,264.6 C332.4,264.6 334.9,284.4 341.9,284.4M329.9,264.6 C336.9,264.6 339.9,284.4 346.9,284.4M336.4,264.6 C343.4,264.6 345.4,284.4 352.4,284.4" fill="none" stroke="#1b1b1b" stroke-width="1.35"/><path d="M364.5,264.6 C371.5,264.6 375.5,284.4 382.5,284.4 L399.5,284.4 C392.5,284.4 390.5,264.6 383.5,264.6 Z" fill="#fff"/><path d="M364.5,264.6 C371.5,264.6 375.5,284.4 382.5,284.4M372.5,264.6 C379.5,264.6 382.0,284.4 389.0,284.4M377.0,264.6 C384.0,264.6 387.0,284.4 394.0,284.4M383.5,264.6 C390.5,264.6 392.5,284.4 399.5,284.4" fill="none" stroke="#1b1b1b" stroke-width="1.35"/><path d="M411.3,264.6 C418.3,264.6 422.3,284.4 429.3,284.4 L446.3,284.4 C439.3,284.4 437.3,264.6 430.3,264.6 Z" fill="#fff"/><path d="M411.3,264.6 C418.3,264.6 422.3,284.4 429.3,284.4M419.3,264.6 C426.3,264.6 428.8,284.4 435.8,284.4M423.8,264.6 C430.8,264.6 433.8,284.4 440.8,284.4M430.3,264.6 C437.3,264.6 439.3,284.4 446.3,284.4" fill="none" stroke="#1b1b1b" stroke-width="1.35"/><path d="M458.0,264.6 C465.0,264.6 469.0,284.4 476.0,284.4 L493.0,284.4 C486.0,284.4 484.0,264.6 477.0,264.6 Z" fill="#fff"/><path d="M458.0,264.6 C465.0,264.6 469.0,284.4 476.0,284.4M466.0,264.6 C473.0,264.6 475.5,284.4 482.5,284.4M470.5,264.6 C477.5,264.6 480.5,284.4 487.5,284.4M477.0,264.6 C484.0,264.6 486.0,284.4 493.0,284.4" fill="none" stroke="#1b1b1b" stroke-width="1.35"/><clipPath id="lc0"><ellipse cx="176.5" cy="274.5" rx="13" ry="8.6" transform="rotate(-52 176.5 274.5)"/></clipPath><ellipse cx="176.5" cy="274.5" rx="13" ry="8.6" transform="rotate(-52 176.5 274.5)" fill="#bebebe" stroke="#1b1b1b" stroke-width="1.4"/><g clip-path="url(#lc0)"><path d="M170.0,285.4 L183.0,263.6" stroke="#1b1b1b" stroke-width="5.6"/><path d="M170.0,285.4 L183.0,263.6" stroke="#fff" stroke-width="2.8"/></g><clipPath id="lc1"><ellipse cx="222.5" cy="274.5" rx="13" ry="8.6" transform="rotate(-52 222.5 274.5)"/></clipPath><ellipse cx="222.5" cy="274.5" rx="13" ry="8.6" transform="rotate(-52 222.5 274.5)" fill="#bebebe" stroke="#1b1b1b" stroke-width="1.4"/><g clip-path="url(#lc1)"><path d="M216.0,285.4 L229.0,263.6" stroke="#1b1b1b" stroke-width="5.6"/><path d="M216.0,285.4 L229.0,263.6" stroke="#fff" stroke-width="2.8"/></g><clipPath id="lc2"><ellipse cx="266.0" cy="274.5" rx="13" ry="8.6" transform="rotate(-52 266.0 274.5)"/></clipPath><ellipse cx="266.0" cy="274.5" rx="13" ry="8.6" transform="rotate(-52 266.0 274.5)" fill="#bebebe" stroke="#1b1b1b" stroke-width="1.4"/><g clip-path="url(#lc2)"><path d="M259.5,285.4 L272.5,263.6" stroke="#1b1b1b" stroke-width="5.6"/><path d="M259.5,285.4 L272.5,263.6" stroke="#fff" stroke-width="2.8"/></g><clipPath id="lc3"><ellipse cx="312.9" cy="274.5" rx="13" ry="8.6" transform="rotate(-52 312.9 274.5)"/></clipPath><ellipse cx="312.9" cy="274.5" rx="13" ry="8.6" transform="rotate(-52 312.9 274.5)" fill="#bebebe" stroke="#1b1b1b" stroke-width="1.4"/><g clip-path="url(#lc3)"><path d="M306.4,285.4 L319.4,263.6" stroke="#1b1b1b" stroke-width="5.6"/><path d="M306.4,285.4 L319.4,263.6" stroke="#fff" stroke-width="2.8"/></g><clipPath id="lc4"><ellipse cx="360.0" cy="274.5" rx="13" ry="8.6" transform="rotate(-52 360.0 274.5)"/></clipPath><ellipse cx="360.0" cy="274.5" rx="13" ry="8.6" transform="rotate(-52 360.0 274.5)" fill="#bebebe" stroke="#1b1b1b" stroke-width="1.4"/><g clip-path="url(#lc4)"><path d="M353.5,285.4 L366.5,263.6" stroke="#1b1b1b" stroke-width="5.6"/><path d="M353.5,285.4 L366.5,263.6" stroke="#fff" stroke-width="2.8"/></g><clipPath id="lc5"><ellipse cx="406.8" cy="274.5" rx="13" ry="8.6" transform="rotate(-52 406.8 274.5)"/></clipPath><ellipse cx="406.8" cy="274.5" rx="13" ry="8.6" transform="rotate(-52 406.8 274.5)" fill="#bebebe" stroke="#1b1b1b" stroke-width="1.4"/><g clip-path="url(#lc5)"><path d="M400.3,285.4 L413.3,263.6" stroke="#1b1b1b" stroke-width="5.6"/><path d="M400.3,285.4 L413.3,263.6" stroke="#fff" stroke-width="2.8"/></g><clipPath id="lc6"><ellipse cx="453.5" cy="274.5" rx="13" ry="8.6" transform="rotate(-52 453.5 274.5)"/></clipPath><ellipse cx="453.5" cy="274.5" rx="13" ry="8.6" transform="rotate(-52 453.5 274.5)" fill="#bebebe" stroke="#1b1b1b" stroke-width="1.4"/><g clip-path="url(#lc6)"><path d="M447.0,285.4 L460.0,263.6" stroke="#1b1b1b" stroke-width="5.6"/><path d="M447.0,285.4 L460.0,263.6" stroke="#fff" stroke-width="2.8"/></g></g><path d="M211.5,284.9 C213.5,276.4 216.5,264.6 221.5,264.6" fill="none" stroke="#1b1b1b" stroke-width="1.4"/><path d="M219.5,264.6 L414.5,264.6" stroke="#1b1b1b" stroke-width="1.6"/><path d="M211.5,284.4 L405.5,284.4" stroke="#1b1b1b" stroke-width="1.6"/><path d="M414.5,264.6 C410.5,264.6 408.5,284.4 405.5,284.4" fill="none" stroke="#1b1b1b" stroke-width="1.4"/>
<text x="318.27" y="84.50" font-size="15.26" font-weight="bold" textLength="29.86" lengthAdjust="spacingAndGlyphs" fill="#111" >JAK</text>
<text x="313.28" y="152.00" font-size="14.83" font-weight="bold" textLength="45.94" lengthAdjust="spacingAndGlyphs" fill="#111" >STAT3</text>
<text x="314.85" y="233.20" font-size="12.21" font-weight="bold" textLength="38.80" lengthAdjust="spacingAndGlyphs" fill="#111" >STAT3</text>
<text x="314.85" y="256.10" font-size="12.21" font-weight="bold" textLength="38.80" lengthAdjust="spacingAndGlyphs" fill="#111" >STAT3</text>
<text x="127.69" y="199.30" font-size="14.97" font-weight="bold" textLength="41.19" lengthAdjust="spacingAndGlyphs" fill="#111" >BRD4</text>
<text x="123.47" y="277.60" font-size="14.24" font-weight="bold" textLength="53.17" lengthAdjust="spacingAndGlyphs" fill="#111" >HDACs</text>
<text x="5.27" y="267.00" font-size="18.60" font-weight="bold" textLength="52.93" lengthAdjust="spacingAndGlyphs" fill="#111" >HDAC</text>
<text x="5.56" y="288.00" font-size="16.84" font-weight="bold" textLength="74.22" lengthAdjust="spacingAndGlyphs" fill="#111" >Inhibitor</text>
<text x="103.03" y="355.50" font-size="14.24" font-weight="bold" textLength="108.19" lengthAdjust="spacingAndGlyphs" fill="#111" >Tumorigenesis</text>
<text x="257.62" y="326.30" font-size="14.53" font-weight="bold" textLength="170.02" lengthAdjust="spacingAndGlyphs" fill="#111" >Anti-apoptotic proteins</text>
<text x="273.96" y="344.50" font-size="15.55" font-weight="bold" textLength="112.77" lengthAdjust="spacingAndGlyphs" fill="#111" >Bcl-2,Cyclin D1</text>
<text x="220.24" y="388.10" font-size="18.31" font-weight="bold" textLength="266.06" lengthAdjust="spacingAndGlyphs" fill="#111" >HDAC-STAT3 Dual Inhibitor</text>
<text x="226.06" y="410.90" font-size="18.31" font-weight="bold" textLength="136.65" lengthAdjust="spacingAndGlyphs" fill="#111" >Compound 14</text>
<text x="435.38" y="191.50" font-size="18.46" font-weight="bold" textLength="134.34" lengthAdjust="spacingAndGlyphs" fill="#111" >Pterostilbene</text>
<text x="468.93" y="214.00" font-size="18.90" font-weight="bold" textLength="56.14" lengthAdjust="spacingAndGlyphs" fill="#111" >(PTE)</text>
<text x="644.36" y="193.00" font-size="19.04" font-weight="bold" textLength="102.80" lengthAdjust="spacingAndGlyphs" fill="#111" >Vorinostat</text>
<text x="651.34" y="214.90" font-size="17.88" font-weight="bold" textLength="74.73" lengthAdjust="spacingAndGlyphs" fill="#111" >(SAHA)</text>
<text x="572.07" y="51.90" font-size="14.53" font-weight="bold" textLength="44.66" lengthAdjust="spacingAndGlyphs" fill="#111" >HDAC</text>
<text x="572.48" y="68.80" font-size="16.42" font-weight="bold" textLength="56.06" lengthAdjust="spacingAndGlyphs" fill="#111" >binding</text>
<text x="656.14" y="63.80" font-size="13.66" font-weight="bold" textLength="47.40" lengthAdjust="spacingAndGlyphs" fill="#111" >Linker</text>
<text x="732.81" y="57.80" font-size="14.39" font-weight="bold" textLength="57.35" lengthAdjust="spacingAndGlyphs" fill="#111" >Capping</text>
<text x="732.82" y="71.90" font-size="13.25" font-weight="bold" textLength="40.16" lengthAdjust="spacingAndGlyphs" fill="#111" >group</text>
<text x="574.92" y="262.90" font-size="20.35" font-weight="bold" textLength="145.57" lengthAdjust="spacingAndGlyphs" fill="#111" >Merge with high</text>
<text x="574.54" y="285.50" font-size="20.01" font-weight="bold" textLength="215.76" lengthAdjust="spacingAndGlyphs" fill="#111" >atom-utilizing efficicacy</text>
<text x="582.33" y="411.90" font-size="19.19" font-weight="bold" textLength="141.18" lengthAdjust="spacingAndGlyphs" fill="#111" >Compound 14</text>
<g transform="translate(204.3,152.4) rotate(-46.5)"><text x="0" y="0" font-size="15.4" font-weight="bold" textLength="60.5" lengthAdjust="spacingAndGlyphs" fill="#111">Cascade</text></g>
<path d="M570.8,81.2 Q570.8,79.2 573.8,79.2 L593.3,79.2 Q596.3,79.2 596.3,76.9 Q596.3,79.2 599.3,79.2 L619.8,79.2 Q622.8,79.2 622.8,81.2" fill="none" stroke="#555" stroke-width="1.5"/>
<path d="M627.4,80.8 Q627.4,78.8 630.4,78.8 L676.0,78.8 Q679.0,78.8 679.0,76.5 Q679.0,78.8 682.0,78.8 L728.0,78.8 Q731.0,78.8 731.0,80.8" fill="none" stroke="#555" stroke-width="1.5"/>
<path d="M734.4,81.2 Q734.4,79.2 737.4,79.2 L753.9,79.2 Q756.9,79.2 756.9,76.9 Q756.9,79.2 759.9,79.2 L776.6,79.2 Q779.6,79.2 779.6,81.2" fill="none" stroke="#555" stroke-width="1.5"/>
<path d="M554.2,234.6 L563.4,234.6 L563.4,296.2 L568.2,296.2 L558.9,304.8 L549.6,296.2 L554.2,296.2 Z" fill="#fff" stroke="#666" stroke-width="1.2" stroke-linejoin="miter"/>
</svg></body></html>
